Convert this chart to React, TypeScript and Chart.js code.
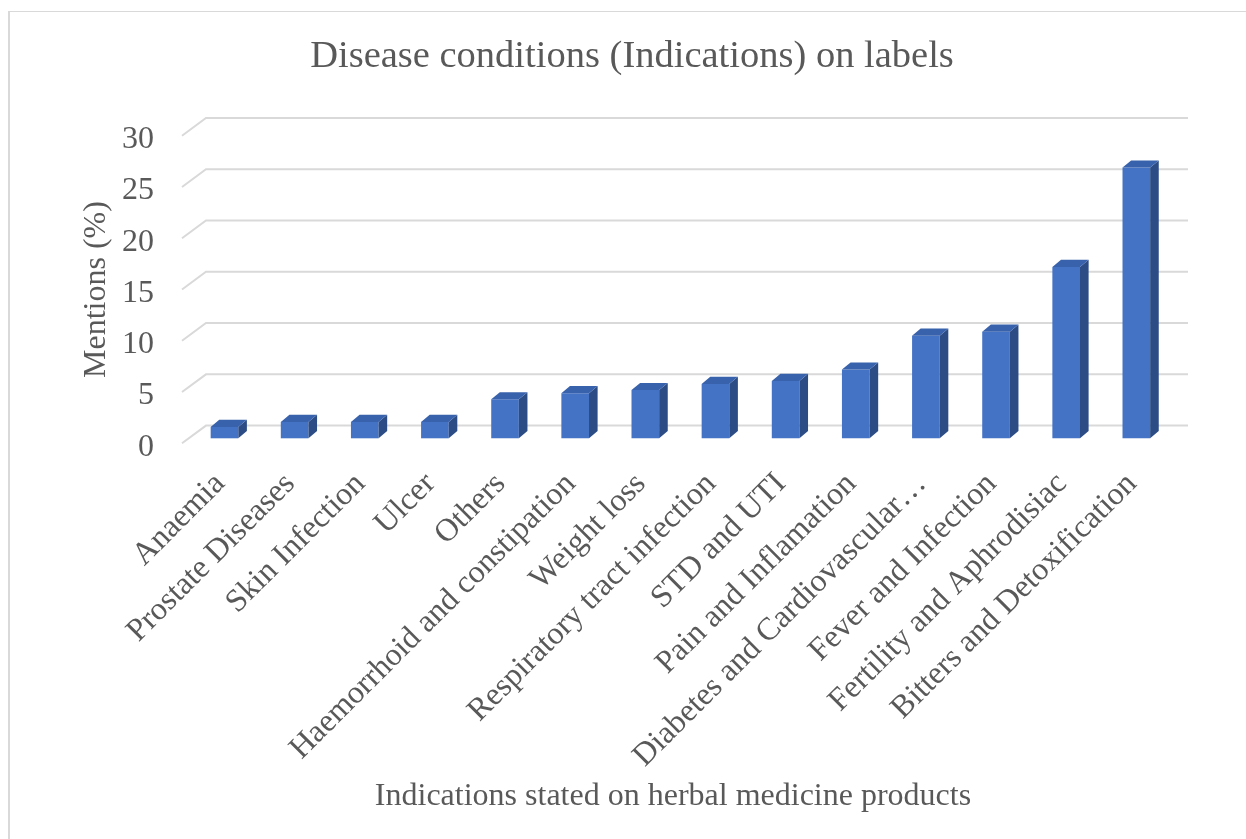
import React, { useEffect, useRef } from 'react';
import { Chart, registerables } from 'chart.js';

Chart.register(...registerables);

const categories = [
  'Anaemia',
  'Prostate Diseases',
  'Skin Infection',
  'Ulcer',
  'Others',
  'Haemorrhoid and constipation',
  'Weight loss',
  'Respiratory tract infection',
  'STD and UTI',
  'Pain and Inflamation',
  'Diabetes and Cardiovascular…',
  'Fever and Infection',
  'Fertility and Aphrodisiac',
  'Bitters and Detoxification',
];
const mentions = [1.1, 1.6, 1.6, 1.6, 3.8, 4.4, 4.7, 5.3, 5.6, 6.7, 10.0, 10.4, 16.7, 26.4];
const yTicks = [0, 5, 10, 15, 20, 25, 30];

const titleText = 'Disease conditions (Indications) on labels';
const xTitleText = 'Indications stated on herbal medicine products';
const yTitleText = 'Mentions (%)';

const FONT = "'Liberation Serif', 'Times New Roman', serif";
const TEXT = '#595959';
const GRID = '#d9d9d9';
const FRONT = '#4472C4';
const TOP = '#3862AC';
const SIDE = '#2C4C86';

// 3D geometry (pixel offsets)
const WALL_DX = 24;
const WALL_DY = -17.7;
const BAR_SHIFT_X = 7.4;
const BAR_SHIFT_Y = -5;
const BAR_DX = 8.6;
const BAR_DY = -7.2;

const threeD = {
  id: 'threeD',
  beforeDatasetsDraw(chart: any) {
    const { ctx, chartArea, scales } = chart;
    const y = scales.y;
    ctx.save();
    ctx.strokeStyle = GRID;
    ctx.lineWidth = 2;
    yTicks.forEach((v) => {
      const py = y.getPixelForValue(v);
      ctx.beginPath();
      ctx.moveTo(chartArea.left, py);
      ctx.lineTo(chartArea.left + WALL_DX, py + WALL_DY);
      ctx.lineTo(chartArea.right + WALL_DX, py + WALL_DY);
      ctx.stroke();
    });
    ctx.restore();
  },
  beforeDatasetDraw(chart: any) {
    chart.ctx.save();
    chart.ctx.translate(BAR_SHIFT_X, BAR_SHIFT_Y);
  },
  afterDatasetDraw(chart: any, args: any) {
    const ctx = chart.ctx;
    args.meta.data.forEach((bar: any) => {
      const { x, y, base, width } = bar.getProps(['x', 'y', 'base', 'width'], true);
      const l = x - width / 2;
      const r = x + width / 2;
      ctx.fillStyle = SIDE;
      ctx.beginPath();
      ctx.moveTo(r, y);
      ctx.lineTo(r + BAR_DX, y + BAR_DY);
      ctx.lineTo(r + BAR_DX, base + BAR_DY);
      ctx.lineTo(r, base);
      ctx.closePath();
      ctx.fill();
      ctx.fillStyle = TOP;
      ctx.beginPath();
      ctx.moveTo(l, y);
      ctx.lineTo(l + BAR_DX, y + BAR_DY);
      ctx.lineTo(r + BAR_DX, y + BAR_DY);
      ctx.lineTo(r, y);
      ctx.closePath();
      ctx.fill();
    });
    ctx.restore();
  },
};

export default function App() {
  const ref = useRef<HTMLCanvasElement | null>(null);

  useEffect(() => {
    if (!ref.current) return;
    const chart = new Chart(ref.current, {
      type: 'bar',
      data: {
        labels: categories,
        datasets: [
          {
            data: mentions,
            backgroundColor: FRONT,
            borderWidth: 0,
            categoryPercentage: 1,
            barPercentage: 0.394,
            clip: false as any,
          },
        ],
      },
      options: {
        responsive: false,
        animation: false,
        devicePixelRatio: 1,
        layout: { padding: { left: 18, right: 0, top: 0, bottom: 0 } },
        plugins: {
          legend: { display: false },
          tooltip: { enabled: false },
          title: {
            display: true,
            text: titleText,
            color: TEXT,
            font: { family: FONT, size: 38.5, weight: 'normal', lineHeight: 1.2 },
            padding: { top: 34, bottom: 55.5 },
          },
        },
        scales: {
          x: {
            type: 'category',
            grid: { display: false, drawTicks: false },
            border: { display: false },
            ticks: {
              autoSkip: false,
              maxRotation: 45,
              minRotation: 45,
              color: TEXT,
              font: { family: FONT, size: 32, lineHeight: 1.2 },
              padding: 22,
              labelOffset: 3,
            },
            title: {
              display: true,
              text: xTitleText,
              color: TEXT,
              font: { family: FONT, size: 32, lineHeight: 1.2 },
              padding: { top: 0, bottom: 23 },
            },
            afterFit: (s: any) => {
              s.height = 395.7;
            },
          },
          y: {
            min: 0,
            max: 30,
            afterBuildTicks: (s: any) => {
              s.ticks = yTicks.map((v) => ({ value: v }));
            },
            grid: { display: false, drawTicks: false },
            border: { display: false },
            ticks: {
              color: TEXT,
              font: { family: FONT, size: 32, lineHeight: 1.2 },
              padding: 28,
              labelOffset: 4,
            },
            title: {
              display: true,
              text: yTitleText,
              color: TEXT,
              font: { family: FONT, size: 32, lineHeight: 1.2 },
              padding: { top: 59.8, bottom: 0 },
            },
            afterFit: (s: any) => {
              s.width = 164;
            },
          },
          yR: {
            position: 'right',
            display: true,
            grid: { display: false, drawTicks: false },
            border: { display: false },
            ticks: { display: false },
            afterFit: (s: any) => {
              s.width = 82;
            },
          },
        },
      },
      plugins: [threeD],
    } as any);
    return () => chart.destroy();
  }, []);

  return (
    <div
      style={{
        position: 'fixed',
        left: 0,
        top: 0,
        width: 1246,
        height: 839,
        overflow: 'hidden',
        background: '#ffffff',
      }}
    >
      <canvas ref={ref} width={1246} height={839} style={{ position: 'absolute', left: 0, top: 0 }} />
      <div
        style={{
          position: 'absolute',
          left: 8,
          top: 11,
          width: 1300,
          height: 900,
          borderLeft: '2px solid #d9d9d9',
          borderTop: '1px solid #d9d9d9',
          pointerEvents: 'none',
        }}
      />
    </div>
  );
}
